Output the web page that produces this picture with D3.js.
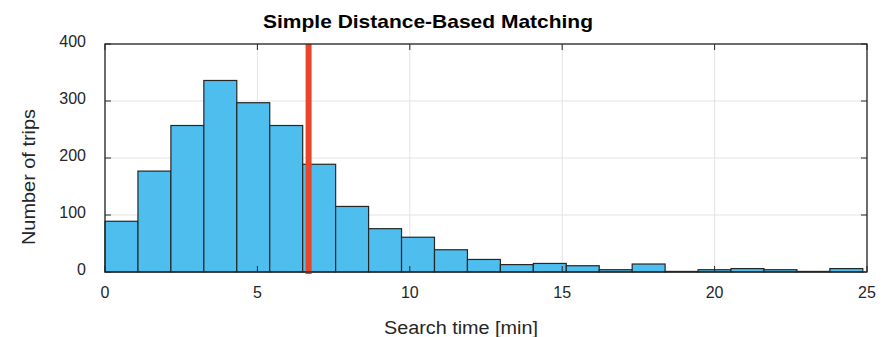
<!DOCTYPE html>
<html>
<head>
<meta charset="utf-8">
<script src="https://cdn.jsdelivr.net/npm/d3@7"></script>
<style>
  body { margin: 0; background: #fff; }
  svg { font-family: "Liberation Sans", Arial, sans-serif; }
</style>
</head>
<body>
<script>
// histogram counts, bins start at 0 with equal width
const binStart = 0;
const binWidth = 1.081;
const counts = [89, 177, 257, 336, 297, 257, 189, 115, 76, 61, 39, 22, 13, 15, 11, 4, 14, 1, 4, 6, 4, 1, 6];
const threshold = 6.68; // red marker line
const xTicks = [0, 5, 10, 15, 20, 25];
const yTicks = [0, 100, 200, 300, 400];
const title = "Simple Distance-Based Matching";
const xLabel = "Search time [min]";
const yLabel = "Number of trips";

const width = 888;
const height = 337;
const margin = { top: 44, right: 21, bottom: 65, left: 105 };

const svg = d3.select("body").append("svg")
    .attr("width", width)
    .attr("height", height);

const x = d3.scaleLinear().domain([0, 25]).range([margin.left, width - margin.right]);
const y = d3.scaleLinear().domain([0, 400]).range([height - margin.bottom, margin.top]);

// grid
svg.append("g")
    .selectAll("line")
    .data(xTicks)
    .join("line")
    .attr("x1", d => x(d)).attr("x2", d => x(d))
    .attr("y1", y(0)).attr("y2", y(400))
    .attr("stroke", "#e3e3e3").attr("stroke-width", 1);
svg.append("g")
    .selectAll("line")
    .data(yTicks)
    .join("line")
    .attr("y1", d => y(d)).attr("y2", d => y(d))
    .attr("x1", x(0)).attr("x2", x(25))
    .attr("stroke", "#e3e3e3").attr("stroke-width", 1);

// bars
const bins = counts.map((c, i) => ({ x0: binStart + i * binWidth, x1: binStart + (i + 1) * binWidth, c }));
svg.append("g")
    .selectAll("rect")
    .data(bins)
    .join("rect")
    .attr("x", d => x(d.x0))
    .attr("width", d => x(d.x1) - x(d.x0))
    .attr("y", d => y(d.c))
    .attr("height", d => y(0) - y(d.c))
    .attr("fill", "#4dbeee")
    .attr("stroke", "#262626")
    .attr("stroke-width", 1.2);

// red marker line with soft shadow
const defs = svg.append("defs");
const blur = defs.append("filter").attr("id", "sh").attr("x", "-2").attr("width", "5").attr("y", "-0.1").attr("height", "1.2");
blur.append("feGaussianBlur").attr("stdDeviation", 2.5);
svg.append("line")
    .attr("x1", x(threshold) + 1).attr("x2", x(threshold) + 1)
    .attr("y1", y(400)).attr("y2", y(0) + 5)
    .attr("stroke", "#000").attr("stroke-opacity", 0.25)
    .attr("stroke-width", 6).attr("filter", "url(#sh)");
svg.append("line")
    .attr("x1", x(threshold)).attr("x2", x(threshold))
    .attr("y1", y(400)).attr("y2", y(0) + 2)
    .attr("stroke", "#e8462b").attr("stroke-width", 6);

// axes box
svg.append("rect")
    .attr("x", x(0)).attr("y", y(400))
    .attr("width", x(25) - x(0)).attr("height", y(0) - y(400))
    .attr("fill", "none").attr("stroke", "#262626").attr("stroke-width", 1.3);

// ticks (inward)
const tl = 6;
svg.append("g").selectAll("line")
    .data(xTicks).join("line")
    .attr("x1", d => x(d)).attr("x2", d => x(d))
    .attr("y1", y(400)).attr("y2", y(400) + tl)
    .attr("stroke", "#262626");
svg.append("g").selectAll("line")
    .data(xTicks).join("line")
    .attr("x1", d => x(d)).attr("x2", d => x(d))
    .attr("y1", y(0)).attr("y2", y(0) - tl)
    .attr("stroke", "#262626");
svg.append("g").selectAll("line")
    .data(yTicks).join("line")
    .attr("x1", x(0)).attr("x2", x(0) + tl)
    .attr("y1", d => y(d)).attr("y2", d => y(d))
    .attr("stroke", "#262626");
svg.append("g").selectAll("line")
    .data(yTicks).join("line")
    .attr("x1", x(25)).attr("x2", x(25) - tl)
    .attr("y1", d => y(d)).attr("y2", d => y(d))
    .attr("stroke", "#262626");

// tick labels
svg.append("g").selectAll("text")
    .data(xTicks).join("text")
    .attr("x", d => x(d))
    .attr("y", y(0) + 26)
    .attr("text-anchor", "middle")
    .attr("font-size", 16)
    .attr("fill", "#262626")
    .text(d => d);
svg.append("g").selectAll("text")
    .data(yTicks).join("text")
    .attr("x", x(0) - 19)
    .attr("y", d => y(d) + 2.5)
    .attr("text-anchor", "end")
    .attr("font-size", 16)
    .attr("fill", "#262626")
    .text(d => d);

// labels
svg.append("text")
    .attr("x", 428).attr("y", 28)
    .attr("text-anchor", "middle")
    .attr("font-size", 19).attr("font-weight", "bold")
    .attr("textLength", 330).attr("lengthAdjust", "spacingAndGlyphs")
    .attr("fill", "#000")
    .text(title);
svg.append("text")
    .attr("x", 461).attr("y", 334)
    .attr("text-anchor", "middle")
    .attr("font-size", 18)
    .attr("textLength", 154).attr("lengthAdjust", "spacingAndGlyphs")
    .attr("fill", "#262626")
    .text(xLabel);
svg.append("text")
    .attr("transform", "translate(35, 177) rotate(-90)")
    .attr("text-anchor", "middle")
    .attr("font-size", 18)
    .attr("textLength", 136).attr("lengthAdjust", "spacingAndGlyphs")
    .attr("fill", "#262626")
    .text(yLabel);
</script>
</body>
</html>
